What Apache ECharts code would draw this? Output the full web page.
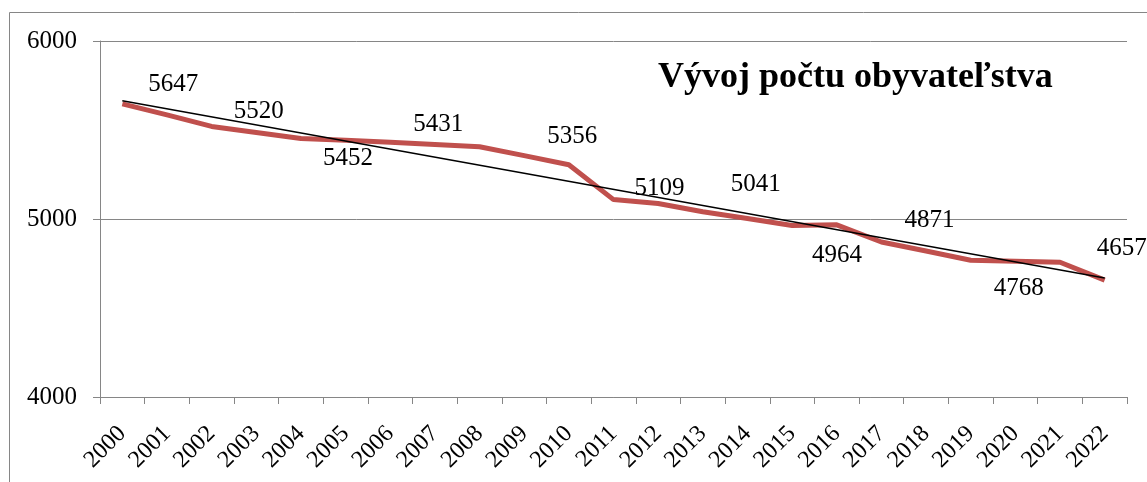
<!DOCTYPE html>
<html>
<head>
<meta charset="utf-8">
<script src="https://cdn.jsdelivr.net/npm/echarts@6/dist/echarts.min.js"></script>
<style>
html, body { margin: 0; padding: 0; background: #fff; }
#echart { width: 1147px; height: 482px; }
</style>
</head>
<body>
<div id="echart"></div>
<script>
var years = ['2000', '2001', '2002', '2003', '2004', '2005', '2006', '2007', '2008', '2009', '2010', '2011',
             '2012', '2013', '2014', '2015', '2016', '2017', '2018', '2019', '2020', '2021', '2022'];
var population = [5647, 5585, 5520, 5486, 5452, 5442, 5431, 5419, 5406, 5356, 5305, 5109,
                  5087, 5041, 5003, 4964, 4967, 4871, 4820, 4768, 4762, 4757, 4657];
// linear trend, value at first and last year
var trendEnds = [5664, 4668];
var yTicks = [4000, 5000, 6000];
var titleText = 'Vývoj počtu obyvateľstva';

// which points carry a value label and where it sits relative to the point
var labelOffsets = {
    '2000': [51, -19], '2002': [47, -15], '2004': [47, 20], '2006': [48, -18],
    '2009': [48, -19], '2011': [46, -11], '2013': [53, -27], '2015': [45, 30],
    '2017': [48, -22], '2019': [48, 28], '2022': [17, -32]
};

var serif = '"Liberation Serif", "Times New Roman", serif';
var grey = '#868686';

var lineData = population.map(function (v, i) {
    if (!labelOffsets[years[i]]) return v;
    return { value: v, label: { show: true } };
});

var trendData = years.map(function (y, i) {
    if (i === 0) return trendEnds[0];
    if (i === years.length - 1) return trendEnds[1];
    return null;
});

var myChart = echarts.init(document.getElementById('echart'));

var option = {
    animation: false,
    backgroundColor: '#fff',
    title: {
        text: titleText,
        left: 653,
        top: 55,
        textStyle: { fontFamily: serif, fontSize: 36, fontWeight: 'bold', color: '#000' }
    },
    graphic: [{
        type: 'rect',
        shape: { x: 9.5, y: 12.5, width: 1300, height: 600 },
        style: { fill: 'none', stroke: grey, lineWidth: 1 },
        silent: true
    }],
    grid: { left: 100, right: 20, top: 41, bottom: 85 },
    xAxis: {
        type: 'category',
        data: years,
        boundaryGap: true,
        axisLine: { lineStyle: { color: grey, width: 1 } },
        axisTick: { show: true, length: 7, lineStyle: { color: grey } },
        axisLabel: {
            rotate: 45,
            interval: 0,
            margin: 33,
            fontFamily: serif,
            fontSize: 24,
            color: '#000'
        },
        splitLine: { show: false }
    },
    yAxis: {
        type: 'value',
        min: yTicks[0],
        max: yTicks[yTicks.length - 1],
        interval: 1000,
        axisLine: { show: true, lineStyle: { color: grey, width: 1 } },
        axisTick: { show: true, length: 7, lineStyle: { color: grey } },
        axisLabel: {
            margin: 23,
            fontFamily: serif,
            fontSize: 25,
            color: '#000',
            formatter: function (v) { return String(v); }
        },
        splitLine: { show: true, lineStyle: { color: grey, width: 1 } }
    },
    series: [{
        name: 'Počet obyvateľov',
        type: 'line',
        data: lineData,
        showSymbol: true,
        symbol: 'circle',
        symbolSize: 0,
        lineStyle: { color: '#C0504D', width: 5, join: 'round' },
        itemStyle: { color: '#C0504D' },
        label: {
            position: 'inside',
            fontFamily: serif,
            fontSize: 25,
            color: '#000'
        },
        labelLayout: function (params) {
            var off = labelOffsets[years[params.dataIndex]] || [0, 0];
            return { dx: off[0], dy: off[1], hideOverlap: false };
        },
        z: 2
    }, {
        name: 'Trend',
        type: 'line',
        data: trendData,
        connectNulls: true,
        symbol: 'none',
        lineStyle: { color: '#000', width: 1.5 },
        z: 3
    }]
};

myChart.setOption(option);
</script>
</body>
</html>
